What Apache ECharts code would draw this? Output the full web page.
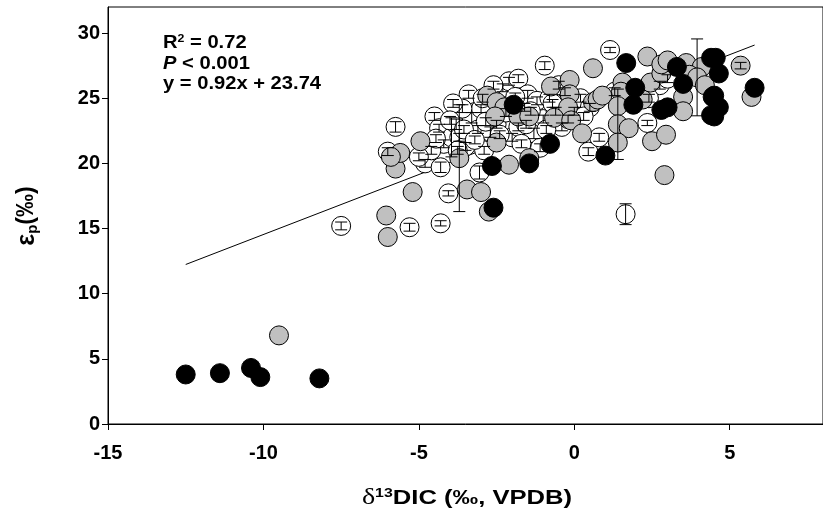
<!DOCTYPE html>
<html><head><meta charset="utf-8">
<script src="https://cdn.jsdelivr.net/npm/echarts@6/dist/echarts.min.js"></script>
<style>html,body{margin:0;padding:0;background:#fff}#c{width:823px;height:520px}</style>
</head><body><div id="c"></div>
<script>
// x: δ13DIC, y: εp, e: error (± ‰)
var whitePts = [
  [-7.5,15.2,0.3],[-5.75,22.8,0.4],[-6.0,20.9,0.3],[-5.3,15.1,0.3],[-4.3,15.4,0.2],
  [-4.05,17.7,0.2],[-4.8,20.0,0.3],[-4.3,19.7,0.4],[-4.5,23.6,0.3],[-4.35,22.7,0.3],
  [-4.2,21.5,0.3],[-3.95,22.0,1.5],[-3.8,23.0,0.4],[-3.7,22.0,0.3],[-3.5,21.3,0.3],
  [-3.4,25.3,0.3],[-3.3,23.5,0.4],[-3.1,22.6,0.3],[-3.05,19.3,0.5],[-3.0,24.2,0.3],
  [-2.9,21.0,0.3],[-2.7,22.4,0.4],[-2.5,23.0,0.3],[-2.3,25.8,0.3],[-2.1,26.3,0.3],
  [-1.8,26.5,0.3],[-2.0,22.0,0.3],[-1.8,22.8,0.3],[-1.6,24.3,0.3],[-1.5,25.3,0.3],
  [-1.3,22.3,0.4],[-1.2,24.8,0.3],[-1.0,23.4,0.3],[-0.95,27.5,0.3],[-0.8,25.0,0.3],
  [-0.6,24.0,0.3],[-0.4,22.8,0.3],[-0.3,25.5,0.3],[0.0,24.0,0.3],[0.2,25.0,0.3],
  [0.45,20.9,0.3],[0.8,22.0,0.3],[1.15,28.7,0.2],[1.3,25.5,0.3],[1.65,16.1,0.8],
  [2.35,23.1,0.2],[2.75,26.0,0.3],[2.4,25.0,0.3],[3.0,26.5,0.3],[-2.6,26.0,0.3],
  [-3.6,24.2,0.3],[-3.9,24.6,0.3],[-4.6,21.0,0.3],[-5.0,20.5,0.3],[-2.2,23.9,0.3],
  [-1.7,21.5,0.3],[-1.1,21.2,0.3],[-0.5,26.0,0.3],[0.5,24.3,0.3],
  [-4.0,23.3,0.3],[-3.55,22.6,0.3],[-3.2,21.8,0.3],[-2.85,23.2,0.3],[-2.4,22.2,0.3],
  [-1.9,25.1,0.3],[-1.4,24.0,0.3],[-0.9,22.6,0.3],[-0.7,24.6,0.3],[-0.2,23.4,0.3],
  [-4.45,21.9,0.3],[-3.75,21.0,0.3],[-2.95,25.0,0.3],[-1.55,23.0,0.3],[0.3,23.6,0.3]
];
var greyPts = [
  [-9.5,6.8,0],[-6.05,16.0,0],[-6.0,14.35,0],[-5.75,19.6,0],[-5.6,20.8,0],[-5.9,20.5,0],
  [-4.95,21.7,0],[-5.2,17.8,0],[-3.7,20.4,4.1],[-3.45,18.0,0],[-3.0,17.8,0],[-2.75,16.3,0],
  [-2.1,19.9,0],[-2.8,25.2,0],[-2.5,24.7,0],[-2.25,24.3,0],[-2.55,23.6,0],[-1.8,23.6,0],
  [-1.45,23.6,0],[-2.5,21.6,0],[-1.45,20.4,0],[-0.75,25.9,0],[-0.15,26.4,0],[-0.15,25.3,0],
  [-0.2,24.3,0],[-0.65,23.5,0],[-0.1,23.3,0],[0.25,22.3,0],[0.6,24.7,0],[0.6,27.3,0],
  [0.75,24.9,0],[0.9,25.2,0],[1.55,26.2,0],[1.5,25.5,0],[1.4,24.4,0],[2.2,24.9,0],
  [1.4,23.0,2.7],[1.75,22.7,0],[1.4,21.6,0],[2.5,21.7,0],[2.95,22.2,0],[2.9,19.1,0],
  [2.45,26.2,0],[2.8,26.9,0],[2.35,28.2,0],[2.8,27.6,0],[3.0,27.9,0],[3.6,27.7,0],
  [4.1,27.4,0],[3.7,26.8,0],[3.95,26.6,2.95],[4.2,26.0,0],[3.5,25.1,0],[3.5,24.0,0],
  [5.35,27.5,0.25],[5.7,25.1,0]
];
var blackPts = [
  [-12.5,3.8,0],[-11.4,3.9,0],[-10.4,4.3,0],[-10.1,3.6,0],[-8.2,3.5,0],
  [-2.6,16.6,0],[-2.65,19.8,0],[-1.45,20.0,0],[-1.95,24.5,0],[-0.78,21.5,0],
  [1.67,27.7,0],[1.0,20.6,0],[1.96,25.8,0],[1.9,24.5,0],[3.3,27.4,0],[3.5,26.1,0],
  [2.8,24.1,0],[3.0,24.3,0],[4.4,28.1,0],[4.45,25.1,0],[4.4,23.7,0],[4.55,28.1,0],
  [4.65,26.9,0],[4.5,25.2,0],[4.65,24.3,0],[4.5,23.6,0],[5.8,25.8,0]
];
var fitX = [-12.5, 5.8];
var fitY = [12.24, 29.08];
var xTicks = [-15, -10, -5, 0, 5];
var yTicks = [0, 5, 10, 15, 20, 25, 30];

var chart = echarts.init(document.getElementById('c'), null, {renderer: 'canvas'});
var allErr = whitePts.concat(greyPts, blackPts).filter(function(p){return p[2] > 0;});
function errRender(params, api) {
  var x = api.value(0), y = api.value(1), e = api.value(2);
  var top = api.coord([x, y + e]), bot = api.coord([x, y - e]);
  var hw = 6;
  var st = {stroke: '#000', lineWidth: 1};
  return {type: 'group', children: [
    {type: 'line', shape: {x1: top[0], y1: top[1], x2: bot[0], y2: bot[1]}, style: st},
    {type: 'line', shape: {x1: top[0]-hw, y1: top[1], x2: top[0]+hw, y2: top[1]}, style: st},
    {type: 'line', shape: {x1: bot[0]-hw, y1: bot[1], x2: bot[0]+hw, y2: bot[1]}, style: st}
  ]};
}
var lab = {fontFamily: 'Liberation Sans, Arial', fontWeight: 'bold', fontSize: 20, color: '#000'};
function mk(name, data, color) {
  return {type: 'scatter', name: name, data: data.map(function(p){return [p[0], p[1]];}),
    symbol: 'circle', symbolSize: 19, z: 3,
    itemStyle: {color: color, borderColor: '#000', borderWidth: 1, opacity: 1},
    emphasis: {disabled: true}, animation: false};
}
var F = 'Liberation Sans, Arial';
chart.setOption({
  animation: false,
  grid: {left: 108, top: 7, right: -7, bottom: 96, show: true, borderColor: '#000', borderWidth: 1},
  xAxis: {type: 'value', min: -15, max: 8, interval: 5,
    axisLine: {show: true, onZero: false, lineStyle: {color: '#000'}},
    axisTick: {show: true, length: 6, inside: false, customValues: xTicks, lineStyle: {color: '#000'}},
    axisLabel: Object.assign({margin: 19, customValues: xTicks}, lab),
    splitLine: {show: false}},
  yAxis: {type: 'value', min: 0, max: 32, interval: 5,
    axisLine: {show: true, onZero: false, lineStyle: {color: '#000'}},
    axisTick: {show: true, length: 6, customValues: yTicks, lineStyle: {color: '#000'}},
    axisLabel: Object.assign({margin: 8, customValues: yTicks}, lab),
    splitLine: {show: false}},
  series: [
    {type: 'line', data: fitX.map(function(x, i){return [x, fitY[i]];}), symbol: 'none',
      lineStyle: {color: '#000', width: 1}, z: 2, silent: true},
    mk('white', whitePts, '#ffffff'),
    mk('grey', greyPts, '#c0c0c0'),
    mk('black', blackPts, '#000000'),
    {type: 'custom', renderItem: errRender, data: allErr, z: 4, silent: true}
  ],
  graphic: [
    {type: 'text', x: 163, y: 33, scaleX: 1.12, style: {
      text: '{b|R}{s|2}{b| = 0.72}\n{i|P}{b| < 0.001}\n{b|y = 0.92x + 23.74}',
      rich: {
        b: {fontFamily: F, fontWeight: 'bold', fontSize: 18, lineHeight: 20.5, fill: '#000'},
        i: {fontFamily: F, fontWeight: 'bold', fontStyle: 'italic', fontSize: 18, lineHeight: 20.5, fill: '#000'},
        s: {fontFamily: F, fontWeight: 'bold', fontSize: 11, lineHeight: 20.5, padding: [0,0,9,0], fill: '#000'}
      }}},
    {type: 'text', x: 467, y: 498, scaleX: 1.22, style: {
      text: '{d|δ}{s|13}{b|DIC (‰, VPDB)}', align: 'center', verticalAlign: 'middle',
      rich: {
        d: {fontFamily: 'Liberation Serif, Times New Roman', fontSize: 23, lineHeight: 26, fill: '#000'},
        s: {fontFamily: F, fontWeight: 'bold', fontSize: 13, lineHeight: 26, padding: [0,0,10,0], fill: '#000'},
        b: {fontFamily: F, fontWeight: 'bold', fontSize: 21, lineHeight: 26, fill: '#000'}
      }}},
    {type: 'text', x: 27, y: 216, rotation: Math.PI / 2, style: {
      text: '{e|ε}{p|p}{b|(‰)}', align: 'center', verticalAlign: 'middle',
      rich: {
        e: {fontFamily: F, fontWeight: 'bold', fontSize: 25, lineHeight: 28, fill: '#000'},
        p: {fontFamily: F, fontWeight: 'bold', fontSize: 15, lineHeight: 28, padding: [11,0,0,0], fill: '#000'},
        b: {fontFamily: F, fontWeight: 'bold', fontSize: 23, lineHeight: 28, fill: '#000'}
      }}}
  ]
});
</script></body></html>
